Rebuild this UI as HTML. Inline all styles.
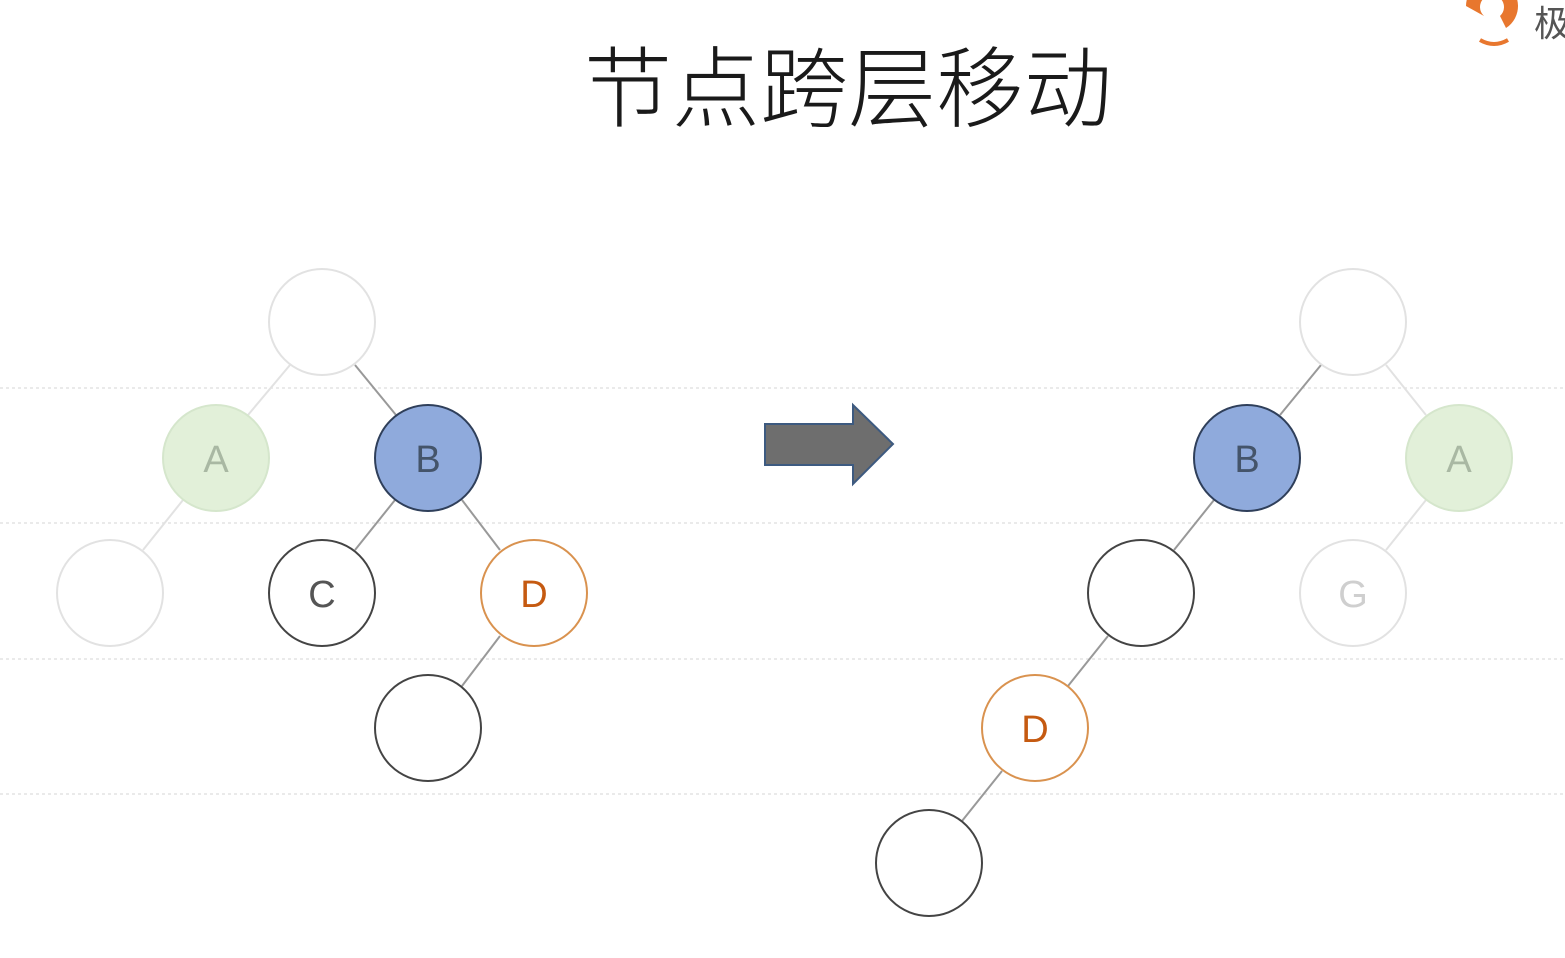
<!DOCTYPE html>
<html><head><meta charset="utf-8"><style>
body{margin:0;background:#fff;}
svg{display:block}
</style></head><body>
<svg width="1565" height="958" xmlns="http://www.w3.org/2000/svg">
<rect width="1565" height="958" fill="#fff"/>
<g stroke="#e4e4e4" stroke-width="1.5" stroke-dasharray="3,3">
<line x1="0" y1="388" x2="1565" y2="388"/>
<line x1="0" y1="523" x2="1565" y2="523"/>
<line x1="0" y1="659" x2="1565" y2="659"/>
<line x1="0" y1="794" x2="1565" y2="794"/>
</g>
<text x="848" y="120" font-family="'Noto Sans CJK SC',sans-serif" font-weight="300" font-size="88" text-anchor="middle" fill="#1a1a1a">节点跨层移动</text>
<path d="M1466 6 a26 26 0 1 1 40 22 l-6 -12 a12 12 0 1 0 -16 0 z" fill="#e8772e"/>
<path d="M1480 40 q14 8 28 0" stroke="#e8772e" stroke-width="4" fill="none"/>
<text x="1534" y="36" font-family="'Noto Sans CJK SC',sans-serif" font-size="36" fill="#555">极</text>
<g stroke-width="2">
<line x1="290" y1="365" x2="248" y2="415" stroke="#e2e2e2"/>
<line x1="355" y1="365" x2="396" y2="415" stroke="#999"/>
<line x1="183" y1="500" x2="143" y2="550" stroke="#e2e2e2"/>
<line x1="395" y1="500" x2="355" y2="550" stroke="#999"/>
<line x1="462" y1="500" x2="500" y2="550" stroke="#999"/>
<line x1="500" y1="636" x2="462" y2="686" stroke="#999"/>
<line x1="1321" y1="365" x2="1280" y2="415" stroke="#999"/>
<line x1="1386" y1="365" x2="1426" y2="415" stroke="#e2e2e2"/>
<line x1="1214" y1="500" x2="1174" y2="550" stroke="#999"/>
<line x1="1426" y1="500" x2="1386" y2="550" stroke="#e2e2e2"/>
<line x1="1108" y1="636" x2="1068" y2="686" stroke="#999"/>
<line x1="1002" y1="771" x2="962" y2="821" stroke="#999"/>
</g>
<g font-family="'Liberation Sans',sans-serif" font-size="38" text-anchor="middle">
<circle cx="322" cy="322" r="53" fill="#fff" stroke="#e2e2e2" stroke-width="2"/>
<circle cx="216" cy="458" r="53" fill="#e2f0d9" stroke="#d5e6cc" stroke-width="2"/>
<text x="216" y="472" fill="#a9b8a3">A</text>
<circle cx="428" cy="458" r="53" fill="#8faadc" stroke="#2f3f5a" stroke-width="2"/>
<text x="428" y="472" fill="#44546a">B</text>
<circle cx="110" cy="593" r="53" fill="#fff" stroke="#e2e2e2" stroke-width="2"/>
<circle cx="322" cy="593" r="53" fill="#fff" stroke="#444" stroke-width="2"/>
<text x="322" y="607" fill="#555">C</text>
<circle cx="534" cy="593" r="53" fill="#fff" stroke="#d9924f" stroke-width="2"/>
<text x="534" y="607" fill="#c55a11">D</text>
<circle cx="428" cy="728" r="53" fill="#fff" stroke="#444" stroke-width="2"/>
<circle cx="1353" cy="322" r="53" fill="#fff" stroke="#e2e2e2" stroke-width="2"/>
<circle cx="1247" cy="458" r="53" fill="#8faadc" stroke="#2f3f5a" stroke-width="2"/>
<text x="1247" y="472" fill="#44546a">B</text>
<circle cx="1459" cy="458" r="53" fill="#e2f0d9" stroke="#d5e6cc" stroke-width="2"/>
<text x="1459" y="472" fill="#a9b8a3">A</text>
<circle cx="1141" cy="593" r="53" fill="#fff" stroke="#444" stroke-width="2"/>
<circle cx="1353" cy="593" r="53" fill="#fff" stroke="#e2e2e2" stroke-width="2"/>
<text x="1353" y="607" fill="#cfcfcf">G</text>
<circle cx="1035" cy="728" r="53" fill="#fff" stroke="#d9924f" stroke-width="2"/>
<text x="1035" y="742" fill="#c55a11">D</text>
<circle cx="929" cy="863" r="53" fill="#fff" stroke="#444" stroke-width="2"/>
</g>
<path d="M765 424 H853 V405 L893 444 L853 484 V465 H765 Z" fill="#6e6e6e" stroke="#3d5a80" stroke-width="2"/>
</svg>
</body></html>
